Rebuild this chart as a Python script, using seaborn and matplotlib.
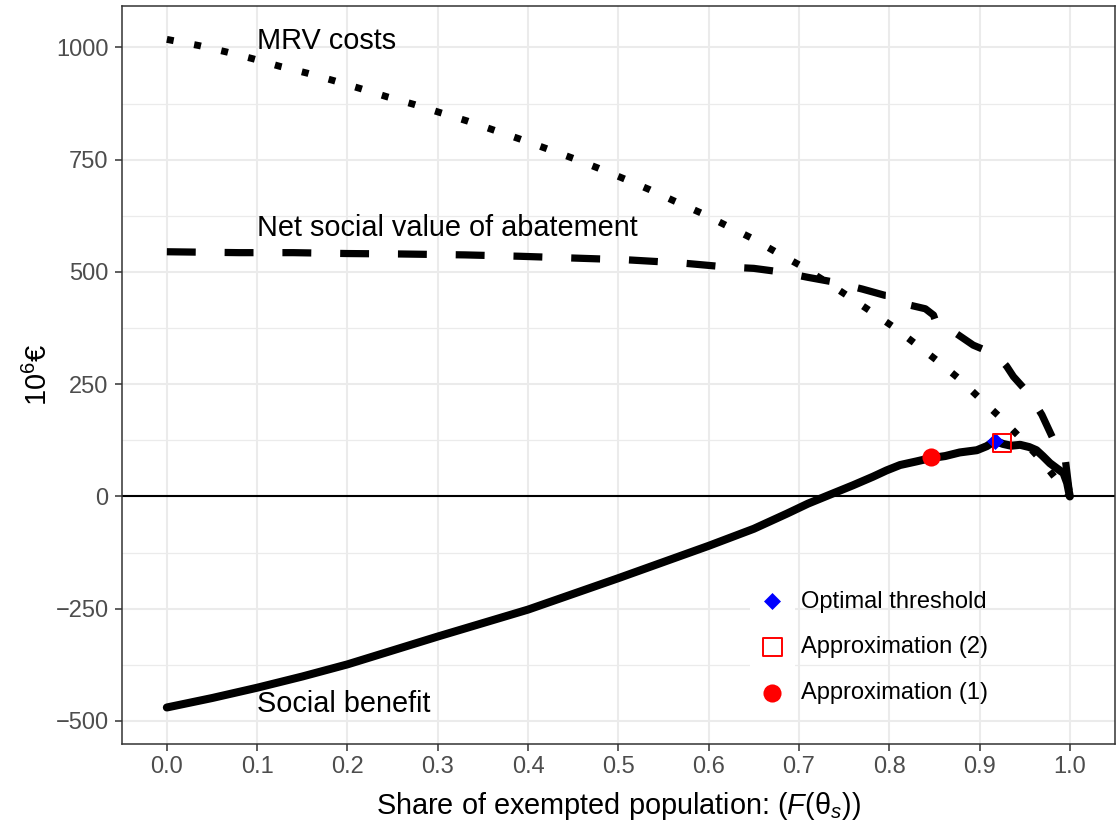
import matplotlib
matplotlib.use("Agg")
import matplotlib.pyplot as plt
import seaborn as sns
from matplotlib.ticker import MultipleLocator
from matplotlib.patches import Rectangle

sns.set_style("white")
plt.rcParams['font.family'] = ['Liberation Sans', 'DejaVu Sans']
plt.rcParams['mathtext.fontset'] = 'custom'
plt.rcParams['mathtext.rm'] = 'Liberation Sans'
plt.rcParams['mathtext.it'] = 'Liberation Sans:italic'
plt.rcParams['text.color'] = 'black'
plt.rcParams['axes.labelcolor'] = 'black'

# MRV costs (dotted)
share_mrv = [0.0, 0.036, 0.066, 0.095, 0.125, 0.155, 0.185, 0.215, 0.244, 0.274, 0.304,
             0.333, 0.362, 0.391, 0.42, 0.45, 0.478, 0.507, 0.535, 0.563, 0.592, 0.619,
             0.647, 0.674, 0.701, 0.727, 0.753, 0.779, 0.805, 0.829, 0.854, 0.878, 0.9,
             0.923, 0.944, 0.965, 0.984, 1.0]
mrv = [1018, 1004, 990, 975, 958, 943, 926, 908, 890, 873, 854,
       836, 816, 796, 775, 753, 731, 707, 683, 657, 631, 604,
       576, 545, 515, 482, 448, 413, 377, 340, 301, 261, 219,
       176, 133, 88, 41, 0]

# Net social value of abatement (dashed)
share_nsv = [0.0, 0.08, 0.14, 0.2, 0.26, 0.33, 0.39, 0.45, 0.51, 0.57, 0.62, 0.65, 0.68,
             0.71, 0.74, 0.77, 0.795, 0.812, 0.823, 0.84, 0.849, 0.853, 0.869, 0.893,
             0.919, 0.93, 0.9375, 0.954, 0.969, 0.982, 0.995, 1.0]
nsv = [545, 543, 543, 541, 540, 538, 535, 531, 527, 520, 511, 508, 500,
       488, 477, 462, 448, 446, 426, 418, 404, 381, 370, 337,
       315, 290, 267, 230, 182, 126, 82, 0]

# Social benefit (solid)
share_sb = [0.0, 0.05, 0.1, 0.15, 0.2, 0.25, 0.3, 0.35, 0.4, 0.45, 0.5, 0.55, 0.6, 0.65,
            0.687, 0.71, 0.738, 0.76, 0.782, 0.797, 0.812, 0.83, 0.845, 0.862, 0.878,
            0.897, 0.908, 0.917, 0.926, 0.935, 0.945, 0.955, 0.963, 0.97, 0.978, 0.986,
            0.993, 0.997, 1.0]
sb = [-470, -449, -426, -401, -374, -343, -312, -282, -252, -217, -182, -146, -110, -72,
      -38, -16, 7, 25, 44, 58, 70, 78, 85, 90, 98,
      103, 112, 124, 117, 113, 115, 110, 103, 90, 74, 62,
      52, 30, 0]

# thresholds
opt_x, opt_y = 0.917, 124
app2_x, app2_y = 0.925, 119
app1_x, app1_y = 0.846, 88

fig = plt.figure(figsize=(11.16, 8.23), dpi=100)
ax = fig.add_axes([121.7 / 1116, 1 - 744.3 / 823, 993.3 / 1116, 738.6 / 823])

ax.axhline(0, color="black", lw=1.5, zorder=1.5)

sns.lineplot(x=share_mrv, y=mrv, ax=ax, color="black", lw=5.0, linestyle=(0, (1, 3)))
sns.lineplot(x=share_nsv, y=nsv, ax=ax, color="black", lw=5.2, linestyle=(0, (4, 4)))
sns.lineplot(x=share_sb, y=sb, ax=ax, color="black", lw=5.8, linestyle="-")

sns.scatterplot(x=[opt_x], y=[opt_y], ax=ax, marker="D", color="blue", s=75,
                linewidth=0, zorder=5, label="Optimal threshold")
sns.scatterplot(x=[app2_x], y=[app2_y], ax=ax, marker="s", color="red", s=180,
                linewidth=1.4, zorder=5, label="Approximation (2)")
ax.collections[-1].set_facecolor("none")
ax.collections[-1].set_edgecolor("red")
sns.scatterplot(x=[app1_x], y=[app1_y], ax=ax, marker="o", color="red", s=170,
                linewidth=0, zorder=5, label="Approximation (1)")

ax.text(0.1, 1015, "MRV costs", fontsize=20.8, ha="left", va="center")
ax.text(0.1, 597, "Net social value of abatement", fontsize=20.8, ha="left", va="center")
ax.text(0.1, -462, "Social benefit", fontsize=20.8, ha="left", va="center")

ax.set_xlim(-0.05, 1.05)
ax.set_ylim(-552, 1093)
ax.yaxis.set_minor_locator(MultipleLocator(125))
ax.set_xticks([i / 10 for i in range(11)])
ax.set_xticklabels(["%.1f" % (i / 10) for i in range(11)])
ax.set_yticks([-500, -250, 0, 250, 500, 750, 1000])
ax.set_yticklabels(["\u2212500", "\u2212250", "0", "250", "500", "750", "1000"])

ax.set_axisbelow(True)
ax.grid(which="major", color="#EBEBEB", lw=1.5)
ax.grid(which="minor", axis="y", color="#EBEBEB", lw=0.9)
ax.tick_params(which="major", axis="both", length=5, width=1.1, color="#333333",
               labelsize=17, labelcolor="#4D4D4D", bottom=True, left=True)
ax.tick_params(axis="x", pad=3.2)
ax.tick_params(axis="y", pad=4.5)
ax.tick_params(which="minor", length=0)
for sp in ax.spines.values():
    sp.set_color("#333333")
    sp.set_linewidth(1.1)

# white key background as in the reference legend
ax.add_patch(Rectangle(((750 - 121.7) / 993.3, 1 - (715 - 5.7) / 738.6), 45 / 993.3, 135 / 738.6,
                       transform=ax.transAxes, facecolor="white", edgecolor="none", zorder=0.8))

leg = ax.legend(loc="upper left", bbox_to_anchor=(0.643, 0.2080), frameon=False, fontsize=17,
                handlelength=1.0, handletextpad=0.7, labelspacing=1.0, borderpad=0,
                borderaxespad=0, scatterpoints=1)
for t in leg.get_texts():
    t.set_color("black")

ax.set_xlabel(r"Share of exempted population: ($\mathit{F}$(θ$_{\mathit{s}}$))", fontsize=20.8)
ax.set_ylabel("10$^{6}$€", fontsize=20.8)
ax.xaxis.set_label_coords(0.5, -0.062)
ax.xaxis.label.set_va("top")
ax.yaxis.set_label_coords(-0.069, 0.5)

fig.savefig("out.png", dpi=100)
